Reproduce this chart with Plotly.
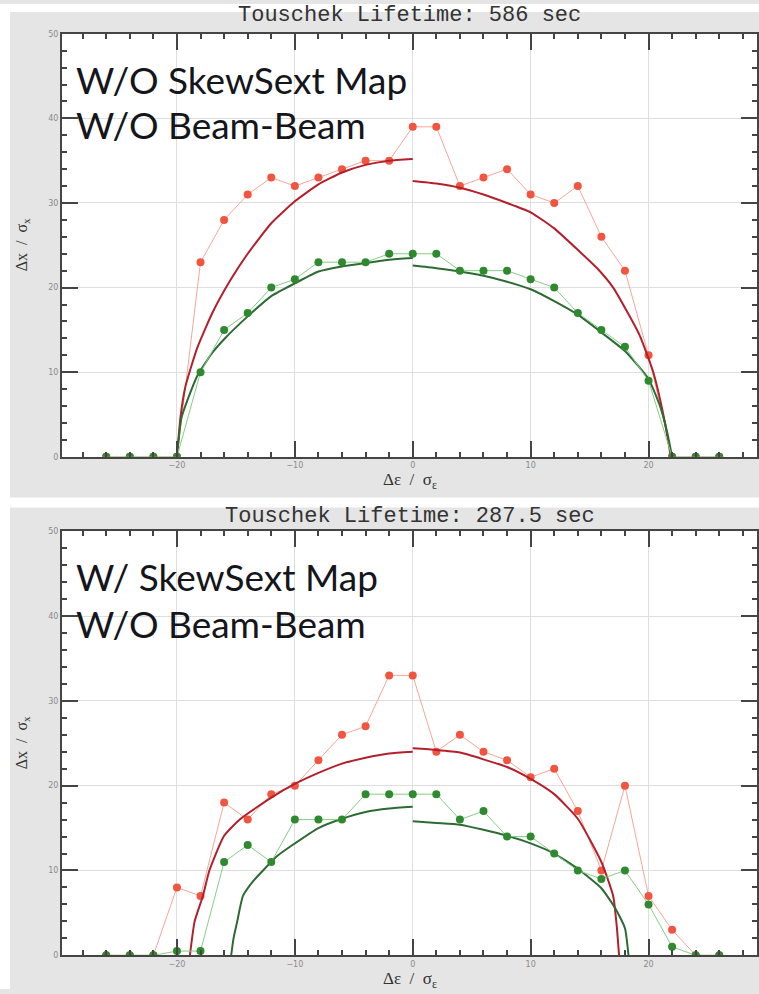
import plotly.graph_objects as go

W, H = 759, 994

# ---------------- data ----------------
x_pts = [-26, -24, -22, -20, -18, -16, -14, -12, -10, -8, -6, -4, -2, 0,
         2, 4, 6, 8, 10, 12, 14, 16, 18, 20, 22, 24, 26]

top_red = [0, 0, 0, 0, 23, 28, 31, 33, 32, 33, 34, 35, 35, 39,
           39, 32, 33, 34, 31, 30, 32, 26, 22, 12, 0, 0, 0]
top_green = [0, 0, 0, 0, 10, 15, 17, 20, 21, 23, 23, 23, 24, 24,
             24, 22, 22, 22, 21, 20, 17, 15, 13, 9, 0, 0, 0]

bot_red = [0, 0, 0, 8, 7, 18, 16, 19, 20, 23, 26, 27, 33, 33,
           24, 26, 24, 23, 21, 22, 17, 10, 20, 7, 3, 0, 0]
bot_green = [0, 0, 0, 0.5, 0.5, 11, 13, 11, 16, 16, 16, 19, 19, 19,
             19, 16, 17, 14, 14, 12, 10, 9, 10, 6, 1, 0, 0]

# aperture curves, left and right of 0
top_red_cl_x = [-20, -19.7, -19.3, -18.3, -17, -15.5, -14, -12, -10, -8, -6, -4, -2, 0]
top_red_cl_y = [0, 4.7, 8.2, 12.8, 17, 20.8, 24, 27.6, 30.2, 32.2, 33.6, 34.5, 35, 35.2]
top_red_cr_x = [0, 2, 4, 6, 8, 10, 12, 14.2, 15.7, 17, 19.2, 20.4, 21.3, 21.9]
top_red_cr_y = [32.6, 32.3, 31.8, 31, 30, 28.9, 27, 24.2, 22.2, 20, 14.5, 10, 4.7, 0]

top_grn_cl_x = [-20, -19.6, -18.3, -17, -16, -14, -12, -10, -8, -6, -4, -2, 0]
top_grn_cl_y = [0, 4.7, 9.5, 12.3, 13.9, 16.6, 19, 20.5, 21.9, 22.5, 22.9, 23.3, 23.5]
top_grn_cr_x = [0, 2, 4, 6, 8, 10, 12, 14, 16, 18, 20, 21, 21.6, 22]
top_grn_cr_y = [22.6, 22.3, 21.9, 21.4, 20.7, 19.8, 18.4, 16.8, 14.7, 12.5, 9.2, 5.9, 2.8, 0]

bot_red_cl_x = [-18.9, -18.5, -17.8, -17.25, -16, -14.6, -12, -10, -8, -6, -4, -2, 0]
bot_red_cl_y = [0, 4, 7, 10, 14.1, 16.1, 18.6, 20.2, 21.5, 22.6, 23.3, 23.8, 24.0]
bot_red_cr_x = [0, 2, 4, 6, 8, 10, 12, 14, 16, 17, 17.3, 17.5]
bot_red_cr_y = [24.4, 24.2, 23.9, 23.1, 22.2, 20.8, 19, 16.1, 11, 7, 3.5, 0]

bot_grn_cl_x = [-15.4, -15.2, -14.9, -14.4, -13.5, -12.7, -11.5, -10.2, -8, -6, -4, -2, 0]
bot_grn_cl_y = [0, 2, 3.9, 7, 8.8, 10, 11.7, 13, 15, 16.1, 16.9, 17.3, 17.5]
bot_grn_cr_x = [0, 2, 4, 6, 8, 10, 12, 14, 16, 17.2, 18, 18.3]
bot_grn_cr_y = [15.8, 15.6, 15.4, 14.8, 14.1, 13.2, 12, 10.2, 7.9, 5.5, 3.2, 0]

titles = ["Touschek Lifetime: 586 sec", "Touschek Lifetime: 287.5 sec"]
labels = [["W/O SkewSext Map", "W/O Beam-Beam"], ["W/ SkewSext Map", "W/O Beam-Beam"]]

# ---------------- styling ----------------
RED_M, RED_L, RED_C = "#f2553f", "#f7a596", "#b3202c"
GRN_M, GRN_L, GRN_C = "#2f8a2f", "#86cc86", "#2d6b35"

def py(pix):
    return 1 - pix / H

def px(pix):
    return pix / W

fig = go.Figure()

panels = [
    dict(red=top_red, grn=top_green,
         curves=[(top_red_cl_x, top_red_cl_y, RED_C), (top_red_cr_x, top_red_cr_y, RED_C),
                 (top_grn_cl_x, top_grn_cl_y, GRN_C), (top_grn_cr_x, top_grn_cr_y, GRN_C)],
         xa="x", ya="y"),
    dict(red=bot_red, grn=bot_green,
         curves=[(bot_red_cl_x, bot_red_cl_y, RED_C), (bot_red_cr_x, bot_red_cr_y, RED_C),
                 (bot_grn_cl_x, bot_grn_cl_y, GRN_C), (bot_grn_cr_x, bot_grn_cr_y, GRN_C)],
         xa="x2", ya="y2"),
]

for p in panels:
    fig.add_trace(go.Scatter(x=x_pts, y=p["red"], mode="lines+markers",
                             line=dict(color=RED_L, width=1),
                             marker=dict(color=RED_M, size=8),
                             xaxis=p["xa"], yaxis=p["ya"], showlegend=False))
    for cx, cy, col in p["curves"]:
        fig.add_trace(go.Scatter(x=cx, y=cy, mode="lines",
                                 line=dict(color=col, width=2, shape="spline", smoothing=0.5),
                                 xaxis=p["xa"], yaxis=p["ya"], showlegend=False))
    fig.add_trace(go.Scatter(x=x_pts, y=p["grn"], mode="lines+markers",
                             line=dict(color=GRN_L, width=1),
                             marker=dict(color=GRN_M, size=8),
                             xaxis=p["xa"], yaxis=p["ya"], showlegend=False))

xdom = [px(62), px(757)]
doms = [[py(457), py(30)], [py(960), py(532)]]

axis_common = dict(showline=True, linecolor="#454545", linewidth=2, mirror="ticks",
                   ticks="inside", ticklen=16, tickwidth=1.5, tickcolor="#444444",
                   showgrid=True, gridcolor="#dedede", gridwidth=1, zeroline=False,
                   tickfont=dict(family="DejaVu Sans", size=8, color="#8a8a8a"),
                   minor=dict(ticks="inside", ticklen=5, tickwidth=1.5, tickcolor="#444444",
                              dtick=2, showgrid=False))

layout_axes = {}
for i, dom in enumerate(doms):
    sfx = "" if i == 0 else str(i + 1)
    layout_axes["xaxis" + sfx] = dict(axis_common, domain=xdom, range=[-29.75, 29.2],
                                      dtick=10, tick0=0, anchor="y" + sfx)
    layout_axes["yaxis" + sfx] = dict(axis_common, domain=dom, range=[0, 50],
                                      dtick=10, tick0=0, anchor="x" + sfx)

GRAY = "#e5e5e5"
# white strips around / between the two gray panels
shapes = [
    dict(type="rect", xref="paper", yref="paper", x0=0, x1=px(10), y0=0, y1=1,
         fillcolor="white", line=dict(width=0), layer="below"),
    dict(type="rect", xref="paper", yref="paper", x0=0, x1=1, y0=py(8), y1=1,
         fillcolor="white", line=dict(width=0), layer="below"),
    dict(type="rect", xref="paper", yref="paper", x0=0, x1=1, y0=py(508), y1=py(498),
         fillcolor="white", line=dict(width=0), layer="below"),
]

annotations = []
title_y = [12, 517]
xlab_y = [481, 985]
for i, dom in enumerate(doms):
    annotations.append(dict(text=titles[i], x=(xdom[0] + xdom[1]) / 2, y=py(title_y[i]),
                            xref="paper", yref="paper", showarrow=False,
                            font=dict(family="Liberation Mono", size=22, color="#333333"),
                            xanchor="center", yanchor="middle"))
    annotations.append(dict(text="Δε  /  σ<sub>ε</sub>", x=(xdom[0] + xdom[1]) / 2, y=py(xlab_y[i]),
                            xref="paper", yref="paper", showarrow=False,
                            font=dict(family="Liberation Serif", size=17, color="#333333"),
                            xanchor="center", yanchor="middle"))
    annotations.append(dict(text="Δx  /  σ<sub>x</sub>", x=px(22), y=(dom[0] + dom[1]) / 2,
                            xref="paper", yref="paper", showarrow=False, textangle=-90,
                            font=dict(family="Liberation Serif", size=16, color="#333333"),
                            xanchor="center", yanchor="middle"))

lab_y = [[76, 122], [578, 625]]
for i in range(2):
    for j in range(2):
        annotations.append(dict(text=labels[i][j], x=px(74), y=py(lab_y[i][j]),
                                xref="paper", yref="paper", showarrow=False,
                                font=dict(family="Lato", size=37, color="#15151c"),
                                xanchor="left", yanchor="middle"))

fig.update_layout(width=W, height=H, margin=dict(l=0, r=0, t=0, b=0),
                  paper_bgcolor=GRAY, plot_bgcolor="white",
                  shapes=shapes, annotations=annotations, **layout_axes)

fig.write_html("out.html", config={"displayModeBar": False},
               post_script="document.body.style.margin='0';document.body.style.padding='0';")
